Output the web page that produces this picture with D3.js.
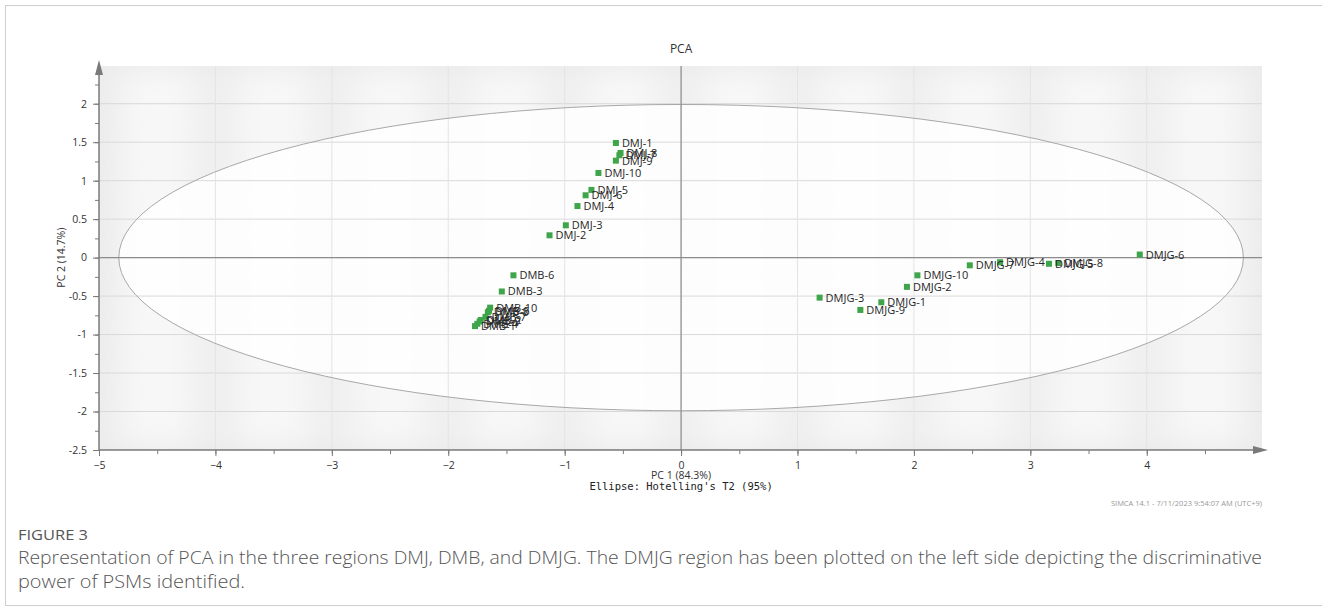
<!DOCTYPE html>
<html>
<head>
<meta charset="utf-8">
<script src="https://cdn.jsdelivr.net/npm/d3@7"></script>
<style>
  body { margin: 0; background: #fff; }
  svg { display: block; font-family: "Open Sans", "Noto Sans", sans-serif; }
</style>
</head>
<body>
<svg id="chart" width="1322" height="610"></svg>
<script>
// sample scores
var names = ["DMJ-1", "DMJ-8", "DMJ-7", "DMJ-9", "DMJ-10", "DMJ-5", "DMJ-6", "DMJ-4", "DMJ-3", "DMJ-2",
    "DMB-6", "DMB-3", "DMB-10", "DMB-5", "DMB-8", "DMB-7", "DMB-2", "DMB-9", "DMB-4", "DMB-1",
    "DMJG-3", "DMJG-9", "DMJG-1", "DMJG-2", "DMJG-10", "DMJG-7", "DMJG-4", "DMJG-5", "DMJG-8", "DMJG-6"]
var pc1 = [-0.56, -0.52, -0.53, -0.56, -0.71, -0.77, -0.82, -0.89, -0.99, -1.13,
    -1.44, -1.54, -1.64, -1.65, -1.66, -1.68, -1.72, -1.73, -1.75, -1.77,
    1.19, 1.54, 1.72, 1.94, 2.03, 2.48, 2.74, 3.16, 3.24, 3.94]
var pc2 = [1.49, 1.36, 1.33, 1.26, 1.10, 0.88, 0.81, 0.67, 0.42, 0.29,
    -0.23, -0.44, -0.65, -0.69, -0.71, -0.77, -0.81, -0.83, -0.86, -0.89,
    -0.52, -0.68, -0.58, -0.38, -0.23, -0.10, -0.06, -0.08, -0.07, 0.04]
var xTicks = [-5, -4, -3, -2, -1, 0, 1, 2, 3, 4]
var yTicks = [-2.5, -2, -1.5, -1, -0.5, 0, 0.5, 1, 1.5, 2]
// Hotelling T2 (95%) ellipse half axes
var ellipseR = [4.83, 1.99]

var svg = d3.select("#chart")

// figure frame
svg.append("rect")
    .attr("x", 5.5).attr("y", 5.5)
    .attr("width", 1330).attr("height", 600)
    .attr("fill", "none").attr("stroke", "#cfcfcf")

var x = d3.scaleLinear().domain([-5, 4.99]).range([99, 1262])
var y = d3.scaleLinear().domain([-2.5, 2.49]).range([450, 66])

var defs = svg.append("defs")
defs.append("filter").attr("id", "blur")
    .attr("x", "-50%").attr("y", "-50%").attr("width", "200%").attr("height", "200%")
    .append("feGaussianBlur").attr("stdDeviation", 16)
defs.append("clipPath").attr("id", "plotclip")
    .append("rect")
    .attr("x", x(-5)).attr("y", y(2.49))
    .attr("width", x(4.99) - x(-5)).attr("height", y(-2.5) - y(2.49))

var plot = svg.append("g").attr("clip-path", "url(#plotclip)")

plot.append("rect")
    .attr("x", x(-5)).attr("y", y(2.49))
    .attr("width", x(4.99) - x(-5)).attr("height", y(-2.5) - y(2.49))
    .attr("fill", "#e9e9e9")

// soft light patches like the SIMCA background
var bands = plot.append("g").attr("filter", "url(#blur)")
d3.range(-5, 5, 1).forEach(function (v) {
    bands.append("rect")
        .attr("x", x(v + 0.2)).attr("y", y(2.49))
        .attr("width", x(0.8) - x(0.2)).attr("height", y(-2.5) - y(2.49))
        .attr("fill", "#f8f8f8")
})
d3.range(-2.5, 2.5, 0.5).forEach(function (v) {
    bands.append("rect")
        .attr("x", x(-5)).attr("y", y(v + 0.38))
        .attr("width", x(4.99) - x(-5)).attr("height", y(v + 0.12) - y(v + 0.38))
        .attr("fill", "#f6f6f6").attr("opacity", 0.8)
})

plot.append("ellipse")
    .attr("cx", x(0)).attr("cy", y(0))
    .attr("rx", x(ellipseR[0]) - x(0)).attr("ry", y(0) - y(ellipseR[1]))
    .attr("fill", "#ffffff").attr("fill-opacity", 0.82)

// grid
plot.selectAll(".hgrid").data(yTicks).join("line")
    .attr("x1", x(-5)).attr("x2", x(4.99))
    .attr("y1", d => y(d)).attr("y2", d => y(d))
    .attr("stroke", "#d9d9d9").attr("stroke-width", 1)
plot.selectAll(".vgrid").data(xTicks).join("line")
    .attr("x1", d => x(d)).attr("x2", d => x(d))
    .attr("y1", y(2.49)).attr("y2", y(-2.5))
    .attr("stroke", "#e4e4e4").attr("stroke-width", 1)

plot.append("ellipse")
    .attr("cx", x(0)).attr("cy", y(0))
    .attr("rx", x(ellipseR[0]) - x(0)).attr("ry", y(0) - y(ellipseR[1]))
    .attr("fill", "none").attr("stroke", "#a8a8a8").attr("stroke-width", 1)

// zero lines
plot.append("line")
    .attr("x1", x(-5)).attr("x2", x(4.99))
    .attr("y1", y(0)).attr("y2", y(0))
    .attr("stroke", "#8c8c8c").attr("stroke-width", 1.2)
plot.append("line")
    .attr("x1", x(0)).attr("x2", x(0))
    .attr("y1", y(2.49)).attr("y2", y(-2.5))
    .attr("stroke", "#8c8c8c").attr("stroke-width", 1.2)

// axes
var axisColor = "#7a7a7a"
var xAxis = svg.append("g").attr("transform", "translate(0," + y(-2.5) + ")")
    .call(d3.axisBottom(x).tickValues(d3.range(-5, 5, 0.5)).tickSize(4).tickFormat(""))
var xLab = svg.append("g").attr("transform", "translate(0," + y(-2.5) + ")")
    .call(d3.axisBottom(x).tickValues(xTicks).tickSize(6).tickPadding(6).tickFormat(d3.format("d")))
var yAxis = svg.append("g").attr("transform", "translate(" + x(-5) + ",0)")
    .call(d3.axisLeft(y).tickValues(d3.range(-2.5, 2.49, 0.25)).tickSize(4).tickFormat(""))
var yLab = svg.append("g").attr("transform", "translate(" + x(-5) + ",0)")
    .call(d3.axisLeft(y).tickValues(yTicks).tickSize(6).tickPadding(6).tickFormat(d => d))
;[xAxis, xLab, yAxis, yLab].forEach(function (g) {
    g.select(".domain").remove()
    g.selectAll("line").attr("stroke", axisColor)
    g.selectAll("text").attr("fill", "#333").style("font-size", "10.5px")
        .style("font-family", "'Open Sans', sans-serif")
})
svg.append("line")
    .attr("x1", x(-5)).attr("x2", 1256).attr("y1", y(-2.5)).attr("y2", y(-2.5))
    .attr("stroke", axisColor).attr("stroke-width", 1.5)
svg.append("path")
    .attr("d", "M1268," + y(-2.5) + "L1253," + (y(-2.5) - 4) + "L1253," + (y(-2.5) + 4) + "Z")
    .attr("fill", axisColor)
svg.append("line")
    .attr("x1", x(-5)).attr("x2", x(-5)).attr("y1", y(-2.5)).attr("y2", 72)
    .attr("stroke", axisColor).attr("stroke-width", 1.5)
svg.append("path")
    .attr("d", "M" + x(-5) + ",60L" + (x(-5) - 4) + ",75L" + (x(-5) + 4) + ",75Z")
    .attr("fill", axisColor)

// points
var pts = svg.append("g")
pts.selectAll("rect").data(names).join("rect")
    .attr("x", (d, i) => x(pc1[i]) - 3)
    .attr("y", (d, i) => y(pc2[i]) - 3)
    .attr("width", 6).attr("height", 6)
    .attr("fill", "#3ea54a")
pts.selectAll("text").data(names).join("text")
    .attr("x", (d, i) => x(pc1[i]) + 6)
    .attr("y", (d, i) => y(pc2[i]) + 4)
    .attr("fill", "#262626")
    .style("font-size", "11px")
    .text(d => d)

// titles
svg.append("text").attr("x", x(0)).attr("y", 53)
    .attr("text-anchor", "middle").attr("fill", "#333")
    .style("font-size", "12px").text("PCA")
svg.append("text").attr("x", x(0)).attr("y", 479)
    .attr("text-anchor", "middle").attr("fill", "#333")
    .style("font-size", "10.5px").text("PC 1 (84.3%)")
svg.append("text").attr("x", x(0)).attr("y", 490)
    .attr("text-anchor", "middle").attr("fill", "#222")
    .style("font-size", "10.5px").style("font-family", "'DejaVu Sans Mono', monospace")
    .text("Ellipse: Hotelling's T2 (95%)")
svg.append("text")
    .attr("transform", "translate(65," + y(0) + ") rotate(-90)")
    .attr("text-anchor", "middle").attr("fill", "#333")
    .style("font-size", "10.5px").text("PC 2 (14.7%)")
svg.append("text").attr("x", 1262).attr("y", 506)
    .attr("text-anchor", "end").attr("fill", "#999")
    .style("font-size", "7.5px").text("SIMCA 14.1 - 7/11/2023 9:54:07 AM (UTC+9)")

// caption
svg.append("text").attr("x", 18).attr("y", 540)
    .attr("fill", "#555").style("font-size", "14px")
    .attr("textLength", 70).attr("lengthAdjust", "spacingAndGlyphs")
    .text("FIGURE 3")
svg.append("text").attr("x", 18).attr("y", 564)
    .attr("fill", "#555").style("font-size", "18.5px").style("font-weight", 300)
    .attr("textLength", 1244).attr("lengthAdjust", "spacingAndGlyphs")
    .text("Representation of PCA in the three regions DMJ, DMB, and DMJG. The DMJG region has been plotted on the left side depicting the discriminative")
svg.append("text").attr("x", 18).attr("y", 588)
    .attr("fill", "#555").style("font-size", "18.5px").style("font-weight", 300)
    .attr("textLength", 227).attr("lengthAdjust", "spacingAndGlyphs")
    .text("power of PSMs identified.")
</script>
</body>
</html>
